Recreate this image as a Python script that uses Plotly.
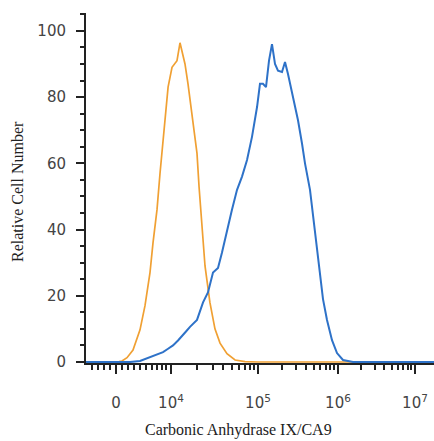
import numpy as np
import plotly.graph_objects as go

# ---------------- data (raw fluorescence values, relative cell number) ----------------
orange_x = [-10000, 0, 500, 963, 1772, 2758, 3944, 4816, 5722, 6282, 7055, 7653, 8063,
            8697, 9350, 10270, 11110, 11720, 12690, 13370, 14480, 15680, 17900, 19900,
            21000, 22700, 24600, 28000, 32000, 36600, 44000, 54500, 70900, 100000,
            1000000, 10000000, 30000000]
orange_y = [0, 0, 0.1, 0.3, 1.3, 3.6, 9.7, 17, 27, 36, 46, 57, 64,
            74, 83, 89, 90, 91, 96.4, 93.5, 90, 84, 73, 63,
            53, 40, 29, 18, 10, 5.7, 2.5, 0.6, 0.1, 0,
            0, 0, 0]

blue_x = [-10000, 0, 2263, 3944, 5722, 7055, 8270, 9350, 10540, 12040, 13370, 14870,
          16530, 19900, 23350, 26600, 30400, 34700, 38500, 44000, 50200, 57400, 65500,
          74800, 85300, 97500, 105900, 115500, 125900, 137300, 149600, 163100, 177800,
          199500, 217600, 237100, 266100, 290100, 316200, 354800, 386800, 446700,
          515800, 595700, 649400, 728600, 841400, 971600, 1161000, 1567000,
          10000000, 30000000]
blue_y = [0, 0, 0, 0.3, 1.5, 2.2, 3, 4, 5, 6.5, 8, 9.2,
          10.6, 12.7, 18, 21, 27, 28.4, 33, 40, 46, 52, 56,
          61, 68, 77, 84, 84, 83, 91, 96, 90, 88,
          87.6, 90.6, 87, 81.6, 78, 73, 66, 60, 52,
          40, 28, 19, 12.7, 6.6, 2.7, 0.6, 0,
          0, 0]

major_ticks = [0, 1e4, 1e5, 1e6, 1e7]
major_labels = ["0", "10<sup>4</sup>", "10<sup>5</sup>", "10<sup>6</sup>", "10<sup>7</sup>"]
minor_ticks = ([-4000, -3000, -2000, -1000] + [k * 1000 for k in range(1, 10)]
               + [k * 1e4 for k in range(2, 10)] + [k * 1e5 for k in range(2, 10)]
               + [k * 1e6 for k in range(2, 10)])

# ---------------- biexponential-like display scale ----------------
LIN_C = 10000.0
ZERO_POS = 116.0
DEC_LOGS = np.array([4.0, 5.0, 6.0, 7.0])
DEC_POS = np.array([171.0, 258.0, 338.0, 415.0])


def to_display(values):
    v = np.asarray(values, dtype=float)
    out = np.empty_like(v)
    low = v < 1e4
    out[low] = ZERO_POS + (DEC_POS[0] - ZERO_POS) * np.arcsinh(v[low] / LIN_C) / np.arcsinh(1e4 / LIN_C)
    lg = np.log10(np.maximum(v[~low], 1e4))
    hi = np.interp(lg, DEC_LOGS, DEC_POS)
    over = lg > DEC_LOGS[-1]
    slope = (DEC_POS[-1] - DEC_POS[-2]) / (DEC_LOGS[-1] - DEC_LOGS[-2])
    hi[over] = DEC_POS[-1] + (lg[over] - DEC_LOGS[-1]) * slope
    out[~low] = hi
    return out


fig = go.Figure()
fig.add_trace(go.Scatter(x=to_display(orange_x), y=orange_y, mode="lines",
                         line=dict(color="#F0A033", width=1.7), hoverinfo="skip",
                         showlegend=False))
fig.add_trace(go.Scatter(x=to_display(blue_x), y=blue_y, mode="lines",
                         line=dict(color="#2E72C8", width=2), hoverinfo="skip",
                         showlegend=False))

axis_col = "#222222"
tick_font = dict(family="DejaVu Sans, Verdana", size=15, color="#444444")
fig.update_layout(
    width=434, height=441,
    margin=dict(l=86, r=0, t=13, b=78),
    paper_bgcolor="white", plot_bgcolor="white",
    xaxis=dict(
        range=[86, 434], showgrid=False, zeroline=False,
        showline=True, linecolor=axis_col, linewidth=2,
        tickmode="array", tickvals=to_display(major_ticks), ticktext=major_labels,
        ticks="outside", ticklen=9, tickwidth=2, tickcolor=axis_col,
        ticklabelstandoff=16,
        tickfont=tick_font,
        minor=dict(tickmode="array", tickvals=to_display(minor_ticks), ticks="outside",
                   ticklen=5, tickwidth=1.5, tickcolor=axis_col),
    ),
    yaxis=dict(
        range=[-0.3, 105.4], showgrid=False, zeroline=False,
        showline=True, linecolor=axis_col, linewidth=2,
        tickmode="array", tickvals=[0, 20, 40, 60, 80, 100],
        ticks="outside", ticklen=8, tickwidth=2, tickcolor=axis_col,
        ticklabelstandoff=7,
        tickfont=tick_font,
        minor=dict(dtick=5, tick0=0, ticks="outside", ticklen=4, tickwidth=1.5,
                   tickcolor=axis_col),
    ),
    annotations=[
        dict(text="Carbonic Anhydrase IX/CA9", xref="paper", yref="paper",
             x=0.437, y=-0.191, xanchor="center", yanchor="middle", showarrow=False,
             font=dict(family="Liberation Serif, Times New Roman", size=16, color="#222222")),
        dict(text="Relative Cell Number", xref="paper", yref="paper",
             x=-0.195, y=0.489, xanchor="center", yanchor="middle", showarrow=False,
             textangle=-90,
             font=dict(family="Liberation Serif, Times New Roman", size=16, color="#222222")),
    ],
)

fig.write_html("out.html", config={"displayModeBar": False},
               post_script="document.body.style.margin='0px';")
